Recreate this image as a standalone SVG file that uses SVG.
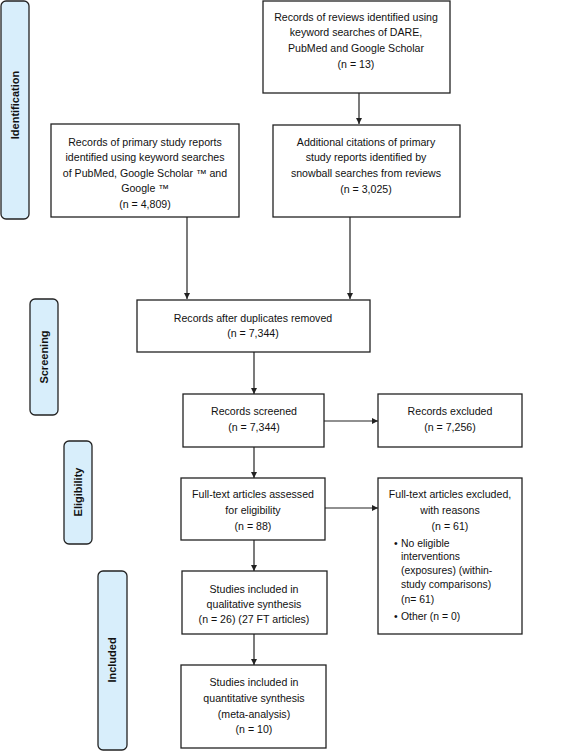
<svg xmlns="http://www.w3.org/2000/svg" width="567" height="751" viewBox="0 0 567 751">
<style>
.box{fill:#fff;stroke:#222;stroke-width:1.3}
.stage{fill:#d8eefb;stroke:#222;stroke-width:1.3}
.t{font-family:"Liberation Sans",Arial,sans-serif;font-size:10.6px;fill:#111;text-anchor:middle}
.b{font-family:"Liberation Sans",Arial,sans-serif;font-size:10.4px;fill:#111}
.st{font-family:"Liberation Sans",Arial,sans-serif;font-size:11px;font-weight:bold;fill:#111;text-anchor:middle}
.c{stroke:#222;stroke-width:1.2;fill:none;marker-end:url(#ah)}
</style>
<defs>
<marker id="ah" viewBox="0 0 10 10" refX="10" refY="5" markerWidth="5" markerHeight="5" orient="auto" markerUnits="strokeWidth">
<path d="M0,0 L10,5 L0,10 z" fill="#222"/>
</marker>
</defs>
<rect width="567" height="751" fill="#fff"/>

<g id="stage-identification">
<rect class="stage" x="1" y="1" width="28" height="218" rx="5"/>
<text class="st" transform="translate(19,105) rotate(-90)">Identification</text>
</g>
<g id="stage-screening">
<rect class="stage" x="30" y="299" width="28" height="116" rx="5"/>
<text class="st" transform="translate(48,357) rotate(-90)">Screening</text>
</g>
<g id="stage-eligibility">
<rect class="stage" x="64" y="441" width="28" height="103" rx="5"/>
<text class="st" transform="translate(82,492) rotate(-90)">Eligibility</text>
</g>
<g id="stage-included">
<rect class="stage" x="98" y="571" width="29" height="179" rx="5"/>
<text class="st" transform="translate(116,660) rotate(-90)">Included</text>
</g>

<g id="connectors">
<line class="c" x1="359" y1="93" x2="359" y2="124"/>
<line class="c" x1="187" y1="217" x2="187" y2="299"/>
<line class="c" x1="350" y1="197" x2="350" y2="299"/>
<line class="c" x1="254" y1="352" x2="254" y2="394"/>
<line class="c" x1="324" y1="421" x2="378" y2="421"/>
<line class="c" x1="254" y1="447" x2="254" y2="478"/>
<line class="c" x1="325" y1="508" x2="378" y2="508"/>
<line class="c" x1="254" y1="540" x2="254" y2="571"/>
<line class="c" x1="254" y1="634" x2="254" y2="665"/>
</g>

<g id="n-reviews">
<rect class="box" x="263" y="1" width="187" height="92"/>
<text class="t" x="356" y="21">Records of reviews identified using</text>
<text class="t" x="356" y="36">keyword searches of DARE,</text>
<text class="t" x="356" y="52">PubMed and Google Scholar</text>
<text class="t" x="356" y="68">(n = 13)</text>
</g>
<g id="n-primary">
<rect class="box" x="51" y="124" width="188" height="93"/>
<text class="t" x="145" y="146">Records of primary study reports</text>
<text class="t" x="145" y="161">identified using keyword searches</text>
<text class="t" x="145" y="177">of PubMed, Google Scholar ™ and</text>
<text class="t" x="145" y="192">Google ™</text>
<text class="t" x="145" y="208">(n = 4,809)</text>
</g>
<g id="n-snowball">
<rect class="box" x="273" y="125" width="187" height="92"/>
<text class="t" x="366" y="146">Additional citations of primary</text>
<text class="t" x="366" y="161">study reports identified by</text>
<text class="t" x="366" y="177">snowball searches from reviews</text>
<text class="t" x="366" y="193">(n = 3,025)</text>
</g>
<g id="n-dedup">
<rect class="box" x="137" y="300" width="233" height="52"/>
<text class="t" x="253" y="322">Records after duplicates removed</text>
<text class="t" x="253" y="337">(n = 7,344)</text>
</g>
<g id="n-screened">
<rect class="box" x="183" y="394" width="141" height="53"/>
<text class="t" x="254" y="415">Records screened</text>
<text class="t" x="254" y="431">(n = 7,344)</text>
</g>
<g id="n-excluded">
<rect class="box" x="378" y="394" width="144" height="53"/>
<text class="t" x="450" y="415">Records excluded</text>
<text class="t" x="450" y="431">(n = 7,256)</text>
</g>
<g id="n-fulltext">
<rect class="box" x="181" y="478" width="144" height="62"/>
<text class="t" x="253" y="498">Full-text articles assessed</text>
<text class="t" x="253" y="514">for eligibility</text>
<text class="t" x="253" y="530">(n = 88)</text>
</g>
<g id="n-ftexcluded">
<rect class="box" x="378" y="478" width="144" height="156"/>
<text class="t" x="450" y="498">Full-text articles excluded,</text>
<text class="t" x="450" y="514">with reasons</text>
<text class="t" x="450" y="530">(n = 61)</text>
<text class="b" x="394" y="547">•</text>
<text class="b" x="401" y="547">No eligible</text>
<text class="b" x="401" y="560">interventions</text>
<text class="b" x="401" y="574">(exposures) (within-</text>
<text class="b" x="401" y="588">study comparisons)</text>
<text class="b" x="401" y="603">(n= 61)</text>
<text class="b" x="394" y="620">•</text>
<text class="b" x="401" y="620">Other (n = 0)</text>
</g>
<g id="n-qualitative">
<rect class="box" x="182" y="571" width="145" height="63"/>
<text class="t" x="254" y="593">Studies included in</text>
<text class="t" x="254" y="608">qualitative synthesis</text>
<text class="t" x="254" y="623">(n = 26) (27 FT articles)</text>
</g>
<g id="n-quantitative">
<rect class="box" x="181" y="665" width="145" height="83"/>
<text class="t" x="254" y="686">Studies included in</text>
<text class="t" x="254" y="702">quantitative synthesis</text>
<text class="t" x="254" y="718">(meta-analysis)</text>
<text class="t" x="254" y="733">(n = 10)</text>
</g>
</svg>
